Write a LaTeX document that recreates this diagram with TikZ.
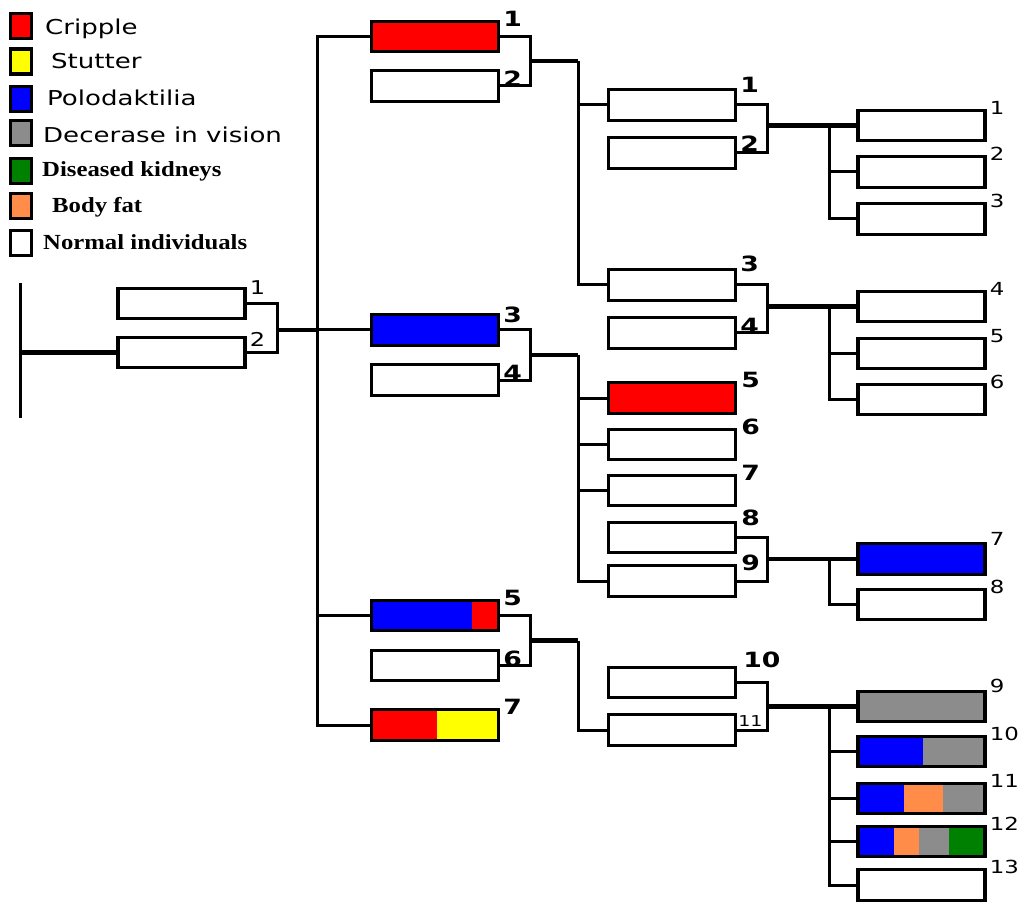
\documentclass[tikz,border=0pt]{standalone}
\usepackage{fontspec}
\usetikzlibrary{calc}
\newfontfamily\keyfont[FakeStretch=1.27]{DejaVu Sans}
\newfontfamily\serifkey[FakeStretch=1.15]{Liberation Serif}
\definecolor{cripple}{RGB}{255,0,0}
\definecolor{stutter}{RGB}{255,255,0}
\definecolor{polo}{RGB}{0,0,255}
\definecolor{vision}{RGB}{140,140,140}
\definecolor{kidney}{RGB}{0,128,0}
\definecolor{fat}{RGB}{255,140,72}
\tikzset{
    % boxes of the pedigree and the colour key
    box/.style={draw,line width=3.2pt,minimum width=127pt,minimum height=30.5pt,inner sep=0pt,fill=white},
    bands/.style={path picture={\foreach \c/\a/\b in {#1}{\fill[\c] ([xshift=\a pt]path picture bounding box.south west) rectangle ([xshift=\b pt]path picture bounding box.north west);}}},
    key/.style={draw,line width=3.5pt,minimum width=21pt,minimum height=25pt,inner sep=0pt},
    keytxt/.style={anchor=base west,inner sep=0pt,font=\keyfont\fontsize{20.5}{20.5}\selectfont},
    keyser/.style={anchor=base west,inner sep=0pt,font=\serifkey\fontsize{21.5}{21.5}\selectfont\bfseries},
    % numbers beside the boxes
    tagb/.style={font=\keyfont\fontsize{21}{21}\selectfont\bfseries,anchor=south west,inner sep=0pt,xshift=3pt,yshift=-7pt},
    tagbin/.style={tagb,anchor=north west,yshift=5pt},
    tagn/.style={font=\keyfont\fontsize{18}{18}\selectfont,anchor=south west,inner sep=0pt,xshift=3pt,yshift=-6pt},
    link/.style={line width=3pt},
    heavy/.style={line width=4.5pt}
    }
\begin{document}
\begin{tikzpicture}[x=1pt,y=-1pt]
        \useasboundingbox (0,0) rectangle (1029,904);
        % Colour key
        \node(k1)[key,fill=cripple] at (21,26) {};
        \node(k2)[key,fill=stutter] at (21,61.5) {};
        \node(k3)[key,fill=polo] at (21,99) {};
        \node(k4)[key,fill=vision] at (21,133) {};
        \node(k5)[key,fill=kidney] at (21,171) {};
        \node(k6)[key,fill=fat] at (21,206) {};
        \node(k7)[key,fill=white] at (21,243) {};
        \node(t1)[keytxt] at (45,35) {Cripple};
        \node(t2)[keytxt] at (51,69) {Stutter};
        \node(t3)[keytxt] at (47,106) {Polodaktilia};
        \node(t4)[keytxt] at (43,143) {Decerase in vision};
        \node(t5)[keyser] at (42,177) {Diseased kidneys};
        \node(t6)[keyser] at (52,213) {Body fat};
        \node(t7)[keyser] at (43,250) {Normal individuals};
        % Generation I
        \node(p1)[box,label={[tagn,font=\keyfont\fontsize{19}{19}\selectfont,yshift=-2pt]north east:1}] at (181.5,303.5) {};
        \node(p2)[box,label={[tagn,font=\keyfont\fontsize{19}{19}\selectfont,yshift=-5pt]north east:2}] at (181.5,352.5) {};
        % Generation II
        \node(c1)[box,fill=cripple,label={[tagb]north east:1}] at (435,36.5) {};
        \node(c2)[box,label={[tagbin]north east:2}] at (435,86) {};
        \node(c3)[box,fill=polo,label={[tagb,yshift=-3pt]north east:3}] at (435,330) {};
        \node(c4)[box,label={[tagbin]north east:4}] at (435,380) {};
        \node(c5)[box,bands={polo/0/100,cripple/100/140},label={[tagb]north east:5}] at (435,615.5) {};
        \node(c6)[box,label={[tagbin]north east:6}] at (435,665.5) {};
        \node(c7)[box,bands={cripple/0/65,stutter/65/140},label={[tagb]north east:7}] at (435,725) {};
        % Generation III
        \node(g1)[box,label={[tagb,yshift=2pt]north east:1}] at (672,105) {};
        \node(g2)[box,label={[tagbin,yshift=2pt]north east:2}] at (672,153) {};
        \node(g3)[box,label={[tagb,yshift=3pt]north east:3}] at (672,285) {};
        \node(g4)[box,label={[tagbin]north east:4}] at (672,333) {};
        \node(g5)[box,fill=cripple,label={[tagb,xshift=1pt]north east:5}] at (672,398) {};
        \node(g6)[box,label={[tagb,xshift=1pt]north east:6}] at (672,444.5) {};
        \node(g7)[box,label={[tagb,xshift=1pt]north east:7}] at (672,490.5) {};
        \node(g8)[box,label={[tagb,xshift=1pt,yshift=2pt]north east:8}] at (672,537.5) {};
        \node(g9)[box,label={[tagb,xshift=1pt]north east:9}] at (672,581) {};
        \node(g10)[box,label={[tagb,xshift=3pt,yshift=5pt]north east:10}] at (672,682.5) {};
        \node(g11)[box,label={[tagn,font=\keyfont\fontsize{15}{15}\selectfont,anchor=north west,xshift=-2pt,yshift=4pt]north east:11}] at (672,730) {};
        % Generation IV
        \node(h1)[box,label={[tagn]north east:1}] at (921.5,125.5) {};
        \node(h2)[box,label={[tagn]north east:2}] at (921.5,172) {};
        \node(h3)[box,label={[tagn]north east:3}] at (921.5,219) {};
        \node(h4)[box,label={[tagn]north east:4}] at (921.5,306.5) {};
        \node(h5)[box,label={[tagn]north east:5}] at (921.5,353.5) {};
        \node(h6)[box,label={[tagn]north east:6}] at (921.5,399.5) {};
        \node(h7)[box,fill=polo,label={[tagn,yshift=2pt]north east:7}] at (921.5,559) {};
        \node(h8)[box,label={[tagn]north east:8}] at (921.5,604.5) {};
        \node(h9)[box,fill=vision,label={[tagn,yshift=3pt]north east:9}] at (921.5,706.5) {};
        \node(h10)[box,bands={polo/0/65,vision/65/140},label={[tagn]north east:10}] at (921.5,751.5) {};
        \node(h11)[box,bands={polo/0/46,fat/46/85,vision/85/140},label={[tagn]north east:11}] at (921.5,798.5) {};
        \node(h12)[box,bands={polo/0/36,fat/36/61,vision/61/91,kidney/91/140},label={[tagn]north east:12}] at (921.5,841.5) {};
        \node(h13)[box,label={[tagn]north east:13}] at (921.5,885) {};
        % vertical lines of the tree
        \coordinate (rt) at (20,283); \coordinate (rb) at (20,418);
        \coordinate (bI) at (277,0); \coordinate (tr) at (317,0);
        \coordinate (bII) at (530,0); \coordinate (vII) at (578,0);
        \coordinate (bIII) at (767,0); \coordinate (vIII) at (829,0);
        % Generation I lines
        \draw[link] (rt) -- (rb);
        \draw[heavy] (rt |- p2.west) -- (p2.west);
        \draw[link] (p1.east) -| (p2.east -| bI) -- (p2.east);
        \draw[heavy] (c3.west -| bI) -- (c3.west -| tr);
        \draw[link] (c1.west) -| (c7.west -| tr) -- (c7.west);
        \draw[link] (c3.west -| tr) -- (c3.west);
        \draw[link] (c5.west -| tr) -- (c5.west);
        % Generation II lines
        \coordinate (m12) at ($(c1.east -| bII)!.5!(c2.east -| bII)$);
        \coordinate (m34) at ($(c3.east -| bII)!.5!(c4.east -| bII)$);
        \coordinate (m56) at ($(c5.east -| bII)!.5!(c6.east -| bII)$);
        \draw[link] (c1.east) -| (c2.east -| bII) -- (c2.east);
        \draw[heavy] (m12) -- (m12 -| vII);
        \draw[link] (m12 -| vII) |- (g3.west);
        \draw[link] (g1.west -| vII) -- (g1.west);
        \draw[link] (c3.east) -| (c4.east -| bII) -- (c4.east);
        \draw[heavy] (m34) -- (m34 -| vII);
        \draw[link] (m34 -| vII) |- (g9.west);
        \draw[link] (g5.west -| vII) -- (g5.west);
        \draw[link] (g6.west -| vII) -- (g6.west);
        \draw[link] (g7.west -| vII) -- (g7.west);
        \draw[link] (c5.east) -| (c6.east -| bII) -- (c6.east);
        \draw[heavy] (m56) -- (m56 -| vII);
        \draw[link] (m56 -| vII) |- (g11.west);
        % Generation III lines
        \draw[link] (g1.east) -| (g2.east -| bIII) -- (g2.east);
        \draw[heavy] (h1.west -| bIII) -- (h1.west);
        \draw[link] (h1.west -| vIII) |- (h3.west);
        \draw[link] (h2.west -| vIII) -- (h2.west);
        \draw[link] (g3.east) -| (g4.east -| bIII) -- (g4.east);
        \draw[heavy] (h4.west -| bIII) -- (h4.west);
        \draw[link] (h4.west -| vIII) |- (h6.west);
        \draw[link] (h5.west -| vIII) -- (h5.west);
        \draw[link] (g8.east) -| (g9.east -| bIII) -- (g9.east);
        \draw[heavy] (h7.west -| bIII) -- (h7.west);
        \draw[link] (h7.west -| vIII) |- (h8.west);
        \draw[link] (g10.east) -| (g11.east -| bIII) -- (g11.east);
        \draw[heavy] (h9.west -| bIII) -- (h9.west);
        \draw[link] (h9.west -| vIII) |- (h13.west);
        \draw[link] (h10.west -| vIII) -- (h10.west);
        \draw[link] (h11.west -| vIII) -- (h11.west);
        \draw[link] (h12.west -| vIII) -- (h12.west);
\end{tikzpicture}
\end{document}
